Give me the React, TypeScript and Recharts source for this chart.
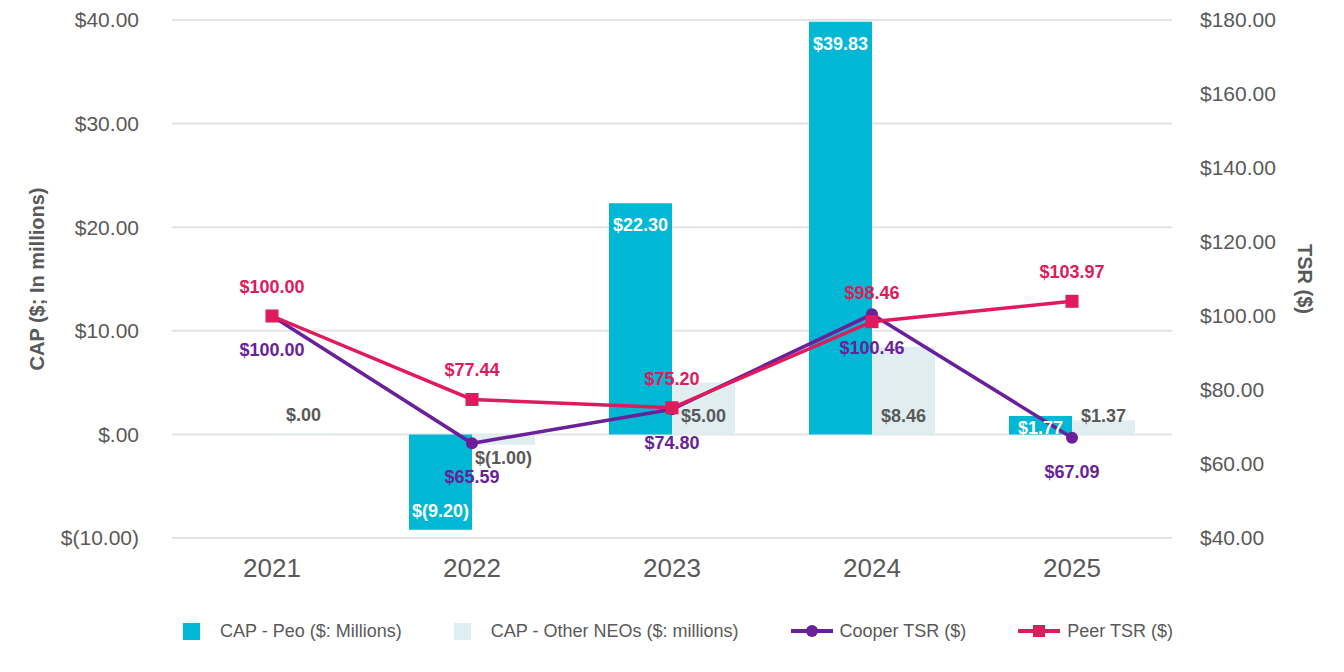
import React from 'react';
import { ComposedChart, Bar, Line, XAxis, YAxis, CartesianGrid, Legend, LabelList } from 'recharts';

const years = ['2021', '2022', '2023', '2024', '2025'];
const capPeo = [0, -9.2, 22.3, 39.83, 1.77];
const capOtherNeos = [0, -1.0, 5.0, 8.46, 1.37];
const cooperTsr = [100.0, 65.59, 74.8, 100.46, 67.09];
const peerTsr = [100.0, 77.44, 75.2, 98.46, 103.97];
const capTicks = [-10, 0, 10, 20, 30, 40];
const tsrTicks = [40, 60, 80, 100, 120, 140, 160, 180];

const CYAN = '#00B8D3';
const PALE = '#E0EEF2';
const PURPLE = '#6A1F9B';
const RED = '#E01A5B';
const GRAY = '#595959';
const FONT = '"Liberation Sans", Arial, sans-serif';

const data = years.map((year, i) => ({
  year,
  peo: capPeo[i],
  other: capOtherNeos[i],
  cooper: cooperTsr[i],
  peer: peerTsr[i],
}));

const fmt = (v: number) => {
  if (v === 0) return '$.00';
  const s = Math.abs(v).toFixed(2);
  return v < 0 ? `$(${s})` : `$${s}`;
};

const box = (props: any) => {
  const vb = props.viewBox || props;
  const x = Number(vb.x);
  const y = Number(vb.y);
  const w = Number(vb.width || 0);
  const h = Number(vb.height || 0);
  return { x, w, top: Math.min(y, y + h), bottom: Math.max(y, y + h) };
};

const PeoLabel = (props: any) => {
  const { x, w, top, bottom } = box(props);
  const v = Number(props.value);
  const h = bottom - top;
  const cy = v >= 0 ? top + Math.min(22, h * 0.67) : bottom - Math.min(19, h * 0.67);
  return (
    <text x={x + w / 2} y={cy} textAnchor="middle" dominantBaseline="central"
      fill="#fff" fontSize={18} fontWeight="bold" fontFamily={FONT}>
      {fmt(v)}
    </text>
  );
};

// labels for the pale bars sit just off the zero baseline
const OtherLabel = (props: any) => {
  const { x, w, top, bottom } = box(props);
  const v = Number(props.value);
  const cy = v > 0 ? bottom - 18 : v === 0 ? top - 18 : top + 24;
  return (
    <text x={x + w / 2} y={cy} textAnchor="middle" dominantBaseline="central"
      fill={GRAY} fontSize={18} fontWeight="bold" fontFamily={FONT}>
      {fmt(v)}
    </text>
  );
};

const lineLabel = (color: string, dy: number) => (props: any) => {
  const vb = props.viewBox || props;
  return (
    <text x={Number(vb.x)} y={Number(vb.y) + dy} textAnchor="middle" dominantBaseline="central"
      fill={color} fontSize={18} fontWeight="bold" fontFamily={FONT}>
      {fmt(Number(props.value))}
    </text>
  );
};

const SquareDot = (props: any) => {
  const { cx, cy, index } = props;
  return <rect key={`sq-${index}`} x={cx - 6.5} y={cy - 6.5} width={13} height={13} fill={RED} />;
};

const LegendContent = () => {
  const text = { marginLeft: 8 } as React.CSSProperties;
  return (
    <div style={{
      display: 'flex', justifyContent: 'center', alignItems: 'center', height: 30,
      gap: 52, fontFamily: FONT, fontSize: 18, color: GRAY, paddingLeft: 12,
    }}>
      <div style={{ display: 'flex', alignItems: 'center' }}>
        <span style={{ width: 17, height: 17, background: CYAN, display: 'inline-block', marginRight: 12 }} />
        <span style={text}>CAP - Peo ($: Millions)</span>
      </div>
      <div style={{ display: 'flex', alignItems: 'center' }}>
        <span style={{ width: 17, height: 17, background: PALE, display: 'inline-block', marginRight: 12 }} />
        <span style={text}>CAP - Other NEOs ($: millions)</span>
      </div>
      <div style={{ display: 'flex', alignItems: 'center' }}>
        <svg width={42} height={16}>
          <line x1={0} y1={8} x2={42} y2={8} stroke={PURPLE} strokeWidth={4} />
          <circle cx={21} cy={8} r={6} fill={PURPLE} />
        </svg>
        <span style={{ marginLeft: 7 }}>Cooper TSR ($)</span>
      </div>
      <div style={{ display: 'flex', alignItems: 'center' }}>
        <svg width={42} height={16}>
          <line x1={0} y1={8} x2={42} y2={8} stroke={RED} strokeWidth={4} />
          <rect x={15} y={2} width={12} height={12} fill={RED} />
        </svg>
        <span style={{ marginLeft: 7 }}>Peer TSR ($)</span>
      </div>
    </div>
  );
};

const LeftTitle = (props: any) => {
  const vb = props.viewBox;
  const cx = vb.x + 37;
  const cy = vb.y + vb.height / 2;
  return (
    <text x={cx} y={cy} transform={`rotate(-90 ${cx} ${cy})`} textAnchor="middle" dominantBaseline="central"
      fill={GRAY} fontSize={20} fontWeight="bold" fontFamily={FONT}>
      CAP ($; In millions)
    </text>
  );
};

const RightTitle = (props: any) => {
  const vb = props.viewBox;
  const cx = vb.x + 133;
  const cy = vb.y + vb.height / 2;
  return (
    <text x={cx} y={cy} transform={`rotate(90 ${cx} ${cy})`} textAnchor="middle" dominantBaseline="central"
      fill={GRAY} fontSize={20} fontWeight="bold" fontFamily={FONT}>
      TSR ($)
    </text>
  );
};

export default function App() {
  return (
    <div style={{ position: 'absolute', left: 0, top: 0, width: 1344, height: 672, background: '#fff' }}>
      <ComposedChart width={1344} height={672} data={data}
        margin={{ top: 20, right: 0, left: 0, bottom: 44 }}
        barCategoryGap="18.5%" barGap={0}>
        <CartesianGrid yAxisId="left" vertical={false} stroke="#E4E4E4" strokeWidth={2} />
        <XAxis dataKey="year" axisLine={false} tickLine={false} tickSize={0} tickMargin={21} height={60}
          tick={{ fill: GRAY, fontSize: 26, fontFamily: FONT }} interval={0} />
        <YAxis yAxisId="left" orientation="left" width={172} domain={[-10, 40]} ticks={capTicks}
          allowDataOverflow axisLine={false} tickLine={false} tickSize={0} tickMargin={33}
          tickFormatter={fmt} tick={{ fill: GRAY, fontSize: 21, fontFamily: FONT }}
          label={<LeftTitle />} />
        <YAxis yAxisId="right" orientation="right" width={172} domain={[40, 180]} ticks={tsrTicks}
          allowDataOverflow axisLine={false} tickLine={false} tickSize={0} tickMargin={28}
          tickFormatter={fmt} tick={{ fill: GRAY, fontSize: 21, fontFamily: FONT }}
          label={<RightTitle />} />
        <Legend verticalAlign="bottom" content={<LegendContent />}
          wrapperStyle={{ left: 0, bottom: 26, width: 1344 }} />
        <Bar yAxisId="left" dataKey="peo" name="CAP - Peo ($: Millions)" fill={CYAN} isAnimationActive={false}>
          <LabelList dataKey="peo" content={<PeoLabel />} />
        </Bar>
        <Bar yAxisId="left" dataKey="other" name="CAP - Other NEOs ($: millions)" fill={PALE}
          minPointSize={1} isAnimationActive={false}>
          <LabelList dataKey="other" content={<OtherLabel />} />
        </Bar>
        <Line yAxisId="right" dataKey="cooper" name="Cooper TSR ($)" stroke={PURPLE} strokeWidth={3.5}
          dot={{ r: 6, fill: PURPLE, stroke: PURPLE, strokeWidth: 0 }} activeDot={false} isAnimationActive={false}>
          <LabelList dataKey="cooper" content={lineLabel(PURPLE, 34)} />
        </Line>
        <Line yAxisId="right" dataKey="peer" name="Peer TSR ($)" stroke={RED} strokeWidth={3.5}
          dot={<SquareDot />} activeDot={false} isAnimationActive={false}>
          <LabelList dataKey="peer" content={lineLabel(RED, -29)} />
        </Line>
      </ComposedChart>
    </div>
  );
}
